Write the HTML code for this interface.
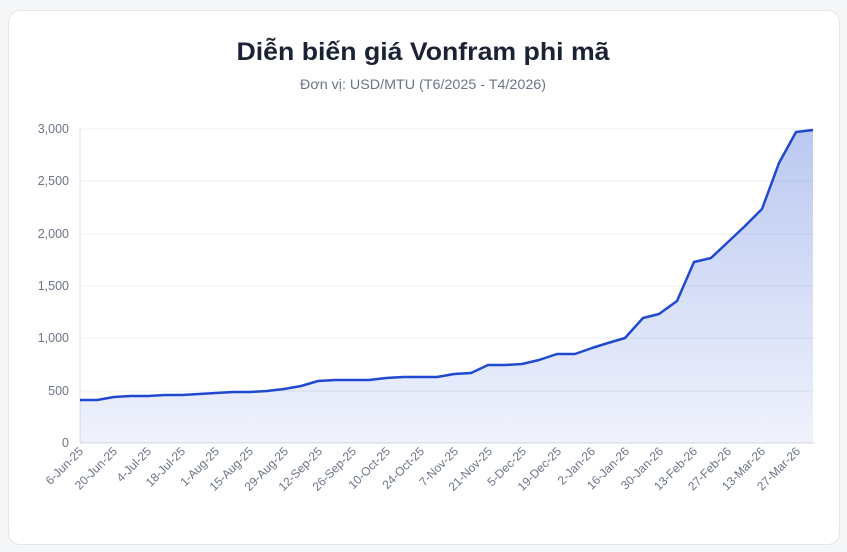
<!DOCTYPE html>
<html><head><meta charset="utf-8"><style>
body{margin:0;background:#f6f7f9;width:847px;height:552px;overflow:hidden;font-family:"Liberation Sans",sans-serif}
.card{position:absolute;left:8px;top:10px;width:830px;height:533px;background:#fff;border:1px solid #e3e6ea;border-radius:12px}
</style></head><body>
<div class="card"></div>
<svg width="847" height="552" style="position:absolute;left:0;top:0" font-family="Liberation Sans, sans-serif">
<defs><linearGradient id="g" x1="0" y1="0" x2="0" y2="1"><stop offset="0" stop-color="#3d63d8" stop-opacity="0.35"/><stop offset="1" stop-color="#3d63d8" stop-opacity="0.08"/></linearGradient></defs>
<text x="423" y="60" text-anchor="middle" font-size="25" font-weight="bold" fill="#1a2233" textLength="373" lengthAdjust="spacingAndGlyphs">Diễn biến giá Vonfram phi mã</text>
<text x="423" y="89" text-anchor="middle" font-size="13.5" fill="#6b7586" textLength="246" lengthAdjust="spacingAndGlyphs">Đơn vị: USD/MTU (T6/2025 - T4/2026)</text>
<g stroke="#eceef2" stroke-width="1">
<line x1="80" x2="814" y1="391" y2="391"/><line x1="80" x2="814" y1="338" y2="338"/><line x1="80" x2="814" y1="286" y2="286"/><line x1="80" x2="814" y1="234" y2="234"/><line x1="80" x2="814" y1="181" y2="181"/><line x1="80" x2="814" y1="129" y2="129"/>
</g>
<line x1="80" x2="80" y1="129" y2="443" stroke="#dfe2e8"/>
<line x1="80" x2="814" y1="443" y2="443" stroke="#d5d9e0"/>
<g font-size="12.5" fill="#6b7586" text-anchor="end">
<text x="69" y="447">0</text><text x="69" y="395">500</text><text x="69" y="342">1,000</text><text x="69" y="290">1,500</text><text x="69" y="238">2,000</text><text x="69" y="185">2,500</text><text x="69" y="133">3,000</text>
</g>
<path d="M80,400 L97,400 L114,397 L131,396 L148,396 L165,395 L182,395 L199,394 L216,393 L233,392 L250,392 L267,391 L284,389 L301,386 L318,381 L335,380 L352,380 L369,380 L386,378 L403,377 L420,377 L437,377 L454,374 L471,373 L488,365 L505,365 L522,364 L539,360 L557,354 L575,354 L592,348 L608,343 L625,338 L643,318 L659,314 L677,301 L694,262 L711,258 L728,242 L745,226 L762,209 L779,163 L796,132 L813,130 L813,443 L80,443 Z" fill="url(#g)"/>
<path d="M80,400 L97,400 L114,397 L131,396 L148,396 L165,395 L182,395 L199,394 L216,393 L233,392 L250,392 L267,391 L284,389 L301,386 L318,381 L335,380 L352,380 L369,380 L386,378 L403,377 L420,377 L437,377 L454,374 L471,373 L488,365 L505,365 L522,364 L539,360 L557,354 L575,354 L592,348 L608,343 L625,338 L643,318 L659,314 L677,301 L694,262 L711,258 L728,242 L745,226 L762,209 L779,163 L796,132 L813,130" fill="none" stroke="#2149cf" stroke-width="2.5" stroke-linejoin="round"/>
<g font-size="12" fill="#6b7586" text-anchor="end">
<text transform="translate(84,452) rotate(-45)">6-Jun-25</text>
<text transform="translate(118,452) rotate(-45)">20-Jun-25</text>
<text transform="translate(152,452) rotate(-45)">4-Jul-25</text>
<text transform="translate(186,452) rotate(-45)">18-Jul-25</text>
<text transform="translate(220,452) rotate(-45)">1-Aug-25</text>
<text transform="translate(254,452) rotate(-45)">15-Aug-25</text>
<text transform="translate(289,452) rotate(-45)">29-Aug-25</text>
<text transform="translate(323,452) rotate(-45)">12-Sep-25</text>
<text transform="translate(357,452) rotate(-45)">26-Sep-25</text>
<text transform="translate(391,452) rotate(-45)">10-Oct-25</text>
<text transform="translate(425,452) rotate(-45)">24-Oct-25</text>
<text transform="translate(459,452) rotate(-45)">7-Nov-25</text>
<text transform="translate(493,452) rotate(-45)">21-Nov-25</text>
<text transform="translate(527,452) rotate(-45)">5-Dec-25</text>
<text transform="translate(562,452) rotate(-45)">19-Dec-25</text>
<text transform="translate(596,452) rotate(-45)">2-Jan-26</text>
<text transform="translate(630,452) rotate(-45)">16-Jan-26</text>
<text transform="translate(664,452) rotate(-45)">30-Jan-26</text>
<text transform="translate(698,452) rotate(-45)">13-Feb-26</text>
<text transform="translate(732,452) rotate(-45)">27-Feb-26</text>
<text transform="translate(766,452) rotate(-45)">13-Mar-26</text>
<text transform="translate(801,452) rotate(-45)">27-Mar-26</text>
</g>
</svg>
</body></html>
